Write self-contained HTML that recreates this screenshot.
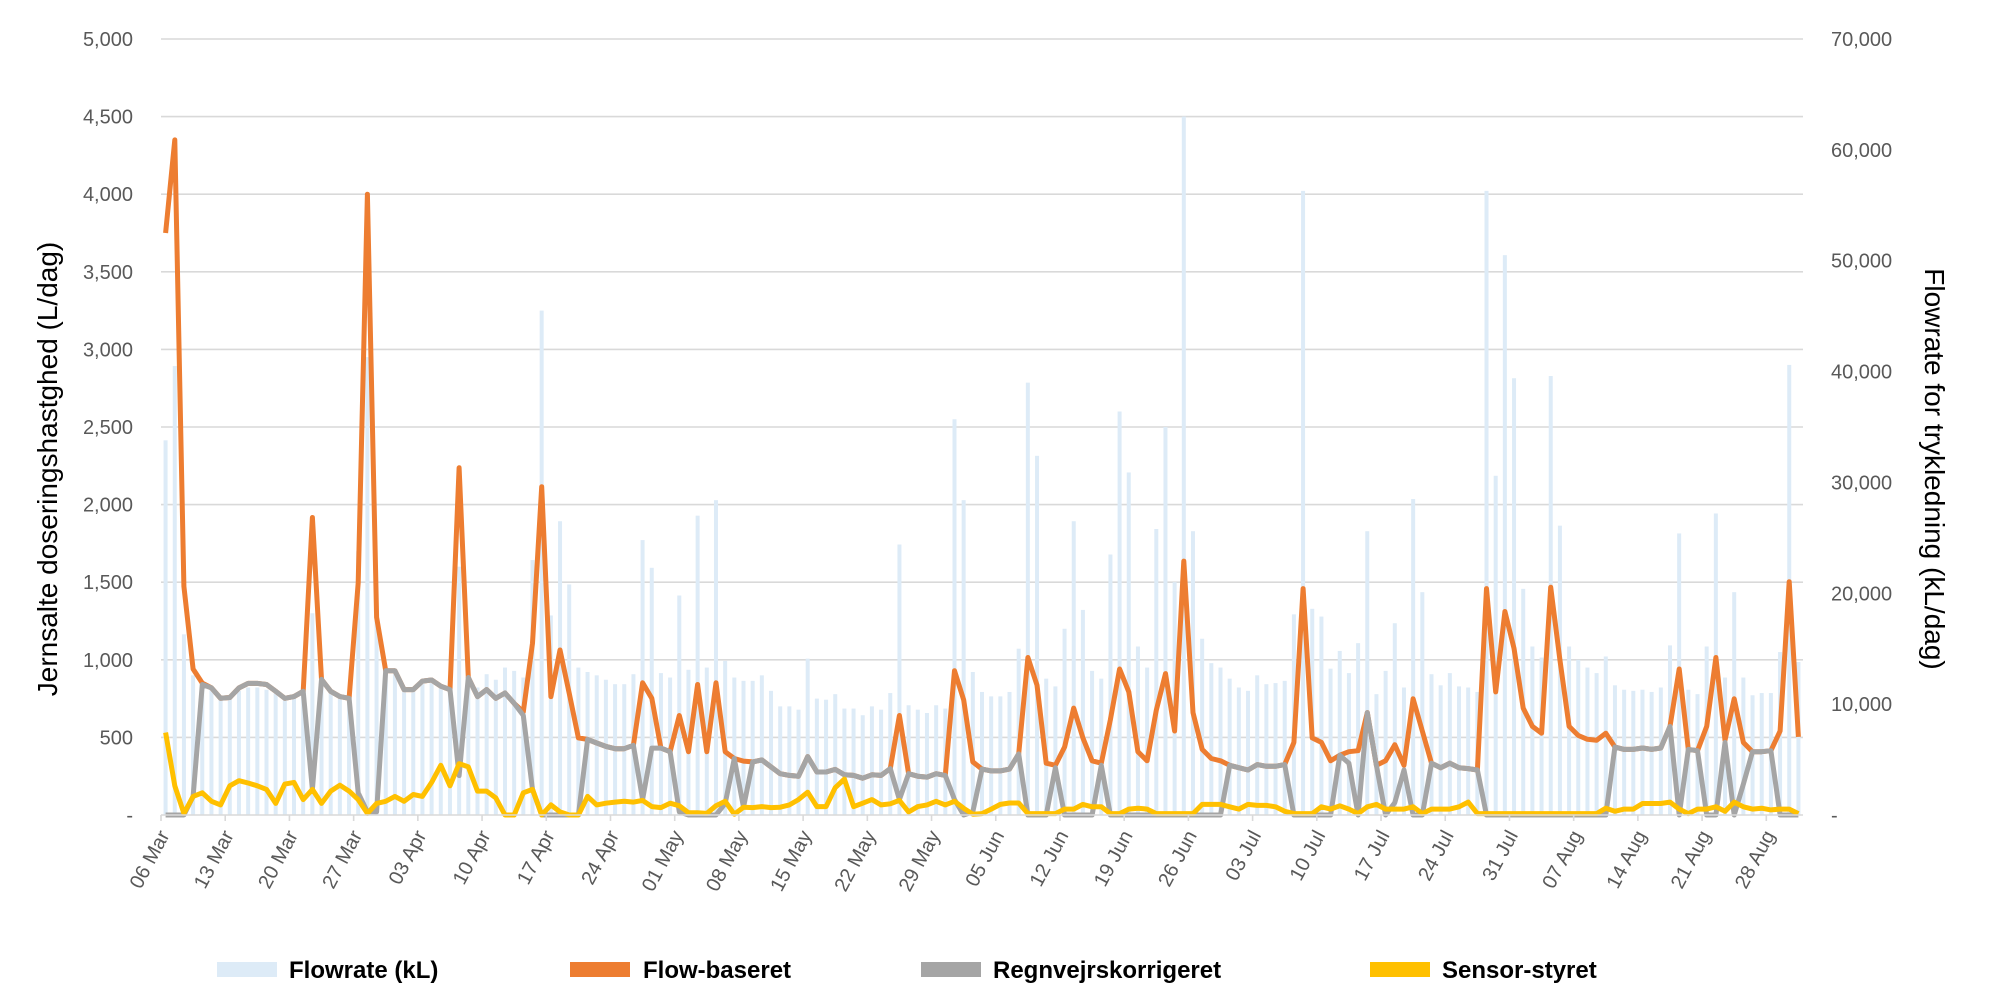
<!DOCTYPE html>
<html><head><meta charset="utf-8"><style>
html,body{margin:0;padding:0;background:#fff;}
svg text{font-family:"Liberation Sans",sans-serif;}
</style></head><body>
<svg id="chart" width="2000" height="1000" viewBox="0 0 2000 1000" xmlns="http://www.w3.org/2000/svg">
<g id="grid"></g>
<g id="bars"></g>
<g id="lines"></g>
<g id="axes"></g>
<text transform="translate(57,469) rotate(-90)" text-anchor="middle" font-size="28" fill="#000">Jernsalte doseringshastghed (L/dag)</text>
<text transform="translate(1925,469) rotate(90)" text-anchor="middle" font-size="28" fill="#000">Flowrate for trykledning (kL/dag)</text>
<g>
 <g><rect x="217" y="962" width="60" height="15" fill="#DDEBF7"/><text x="289" y="978" font-size="24" font-weight="bold" fill="#000">Flowrate (kL)</text></g>
 <g><rect x="570" y="962" width="60" height="15" fill="#ED7D31"/><text x="643" y="978" font-size="24" font-weight="bold" fill="#000">Flow-baseret</text></g>
 <g><rect x="921" y="962" width="60" height="15" fill="#A5A5A5"/><text x="993" y="978" font-size="24" font-weight="bold" fill="#000">Regnvejrskorrigeret</text></g>
 <g><rect x="1370" y="962" width="60" height="15" fill="#FFC000"/><text x="1442" y="978" font-size="24" font-weight="bold" fill="#000">Sensor-styret</text></g>
</g>
</svg>
<script>
const tickLabels=["06 Mar","13 Mar","20 Mar","27 Mar","03 Apr","10 Apr","17 Apr","24 Apr","01 May","08 May","15 May","22 May","29 May","05 Jun","12 Jun","19 Jun","26 Jun","03 Jul","10 Jul","17 Jul","24 Jul","31 Jul","07 Aug","14 Aug","21 Aug","28 Aug"];
const leftTicks=[0,500,1000,1500,2000,2500,3000,3500,4000,4500,5000];
const rightTicks=[0,10000,20000,30000,40000,50000,60000,70000];
const flowrate=[33800,40500,16300,12600,11800,11500,10600,10600,11200,11500,11500,11300,11100,10600,10600,10900,18200,12300,11200,10800,10600,23800,41300,17500,13200,13000,11200,11200,11900,12000,11600,11200,22400,12600,11500,12700,12200,13300,13000,12400,23000,45500,18000,26500,20800,13300,12900,12600,12200,11800,11800,12700,24800,22300,12800,12400,19800,13100,27000,13300,28400,13900,12400,12100,12100,12600,11200,9800,9800,9500,14100,10500,10400,10900,9600,9600,9000,9800,9500,11000,24400,9900,9500,9200,9900,9600,35700,28400,12900,11100,10700,10700,11100,15000,39000,32400,12300,11600,16800,26500,18500,13000,12300,23500,36400,30900,15200,13300,25800,35000,21000,63000,25600,15900,13700,13300,12300,11500,11200,12600,11800,11900,12100,18100,56300,18600,17900,13200,14800,12800,15500,25600,10900,13000,17300,11500,28500,20100,12700,11700,12800,11600,11500,11100,56300,30600,50500,39400,20400,15200,14200,39600,26100,15200,14000,13300,12800,14300,11700,11300,11200,11300,11100,11500,15300,25400,11300,10900,15200,27200,12400,20100,12400,10800,11000,11000,14700,40600,13800];
const flowBaseret=[3750,4350,1473,941,850,819,752,757,819,848,848,841,797,752,763,797,1917,874,797,763,752,1496,4000,1274,930,930,808,808,863,870,830,808,2237,886,763,808,752,786,719,664,1107,2115,763,1063,785,497,487,464,442,427,427,449,852,752,431,408,641,408,841,408,852,408,364,347,342,355,310,266,255,250,376,277,277,294,259,255,237,259,255,299,641,266,250,244,266,255,930,741,342,296,284,284,296,394,1015,837,334,320,438,689,497,349,334,615,941,793,408,349,675,911,541,1636,660,423,364,349,320,305,290,325,314,314,325,468,1459,497,468,349,385,408,414,660,320,349,453,320,749,541,334,305,334,305,299,290,1459,793,1311,1074,689,571,527,1468,1000,571,512,488,482,527,438,423,423,432,423,432,571,941,423,414,571,1015,482,749,467,408,408,414,541,1503,503];
const regnvejr=[0,0,0,120,841,819,752,757,819,848,848,841,797,752,763,797,165,874,797,763,752,143,20,20,930,930,808,808,863,870,830,808,254,886,763,808,752,786,719,642,165,0,0,0,0,0,487,464,442,427,427,449,100,431,431,408,20,0,0,0,0,75,364,50,342,355,310,266,255,250,376,277,277,294,259,255,237,259,255,299,100,266,250,244,266,255,100,0,20,296,284,284,296,394,0,0,0,305,0,0,0,0,320,0,0,0,0,0,0,0,0,0,0,0,0,0,320,305,290,325,314,314,325,0,0,0,0,0,385,334,0,660,320,0,80,290,0,0,334,305,334,305,299,290,0,0,0,0,0,0,0,0,0,0,0,0,0,0,438,423,423,432,423,432,571,0,423,414,0,0,467,0,200,408,408,414,0,0,0];
const sensor=[531,188,10,120,143,88,65,188,221,206,188,165,75,199,210,99,165,75,154,192,154,99,10,75,88,120,88,132,120,210,320,188,331,310,154,154,110,0,0,143,165,0,65,20,0,0,120,65,76,83,88,83,94,54,48,76,59,14,14,10,60,88,5,50,48,54,48,50,65,99,147,54,54,176,231,54,76,99,65,72,94,20,54,65,88,65,88,43,5,9,38,68,77,77,9,9,9,9,38,38,68,53,53,9,9,38,44,38,9,9,9,9,9,68,68,68,53,38,68,62,62,53,24,9,9,9,53,38,59,38,9,53,68,38,38,38,53,9,38,38,38,53,83,9,9,9,9,9,9,9,9,9,9,9,9,9,9,44,24,38,38,74,74,74,83,38,9,38,38,53,24,83,53,38,44,33,38,38,9];

const NS="http://www.w3.org/2000/svg";
const L=161,R=1803,T=39,B=815;
const n=flowrate.length, bw=(R-L)/n;
function xc(i){return L+bw*(i+0.5);}
function yl(v){return B-(v/5000)*(B-T);}
function yr(v){return B-(v/70000)*(B-T);}
function mk(tag,attrs,parent){const e=document.createElementNS(NS,tag);for(const k in attrs)e.setAttribute(k,attrs[k]);parent.appendChild(e);return e;}
const grid=document.getElementById('grid'),bars=document.getElementById('bars'),lines=document.getElementById('lines'),axes=document.getElementById('axes');
leftTicks.forEach(v=>{
  const y=yl(v);
  if(v>0){const g=mk('line',{x1:L,x2:R,y1:y,y2:y,stroke:'#d9d9d9','stroke-width':1.6},grid);
  
  }
  const t=mk('text',{x:133,y:y+7,'text-anchor':'end','font-size':20,fill:'#595959'},axes);
  t.textContent=v===0?'-':v.toLocaleString('en-US');
  
  
});
rightTicks.forEach(v=>{
  const t=mk('text',{x:1831,y:yr(v)+7,'font-size':20,fill:'#595959'},axes);
  t.textContent=v===0?'-':v.toLocaleString('en-US');
  
  
});
const ax=mk('line',{x1:L,x2:R,y1:B,y2:B,stroke:'#d9d9d9','stroke-width':1.6},axes);


tickLabels.forEach((lab,k)=>{
  const x=L+bw*7*k;
  const tk=mk('line',{x1:x,x2:x,y1:B,y2:B+6,stroke:'#d9d9d9','stroke-width':1.6},axes);
  
  
  const t=mk('text',{transform:`translate(${x+9},${B+20}) rotate(-62)`,'text-anchor':'end','font-size':20,fill:'#595959'},axes);
  t.textContent=lab;
  
  
});
flowrate.forEach((v,i)=>{
  const y=yr(v);
  const r=mk('rect',{x:xc(i)-2,y:y,width:4,height:B-y,fill:'#DDEBF7'},bars);
  
  
});
function line(arr,color,name){
  const d=arr.map((v,i)=>(i?'L':'M')+xc(i).toFixed(1)+','+yl(v).toFixed(1)).join('');
  const p=mk('path',{d:d,fill:'none',stroke:color,'stroke-width':5,'stroke-linejoin':'round'},lines);
  
  
}
line(flowBaseret,'#ED7D31','flow-baseret-line');
line(regnvejr,'#A5A5A5','regnvejrskorrigeret-line');
line(sensor,'#FFC000','sensor-styret-line');
</script>
</body></html>
